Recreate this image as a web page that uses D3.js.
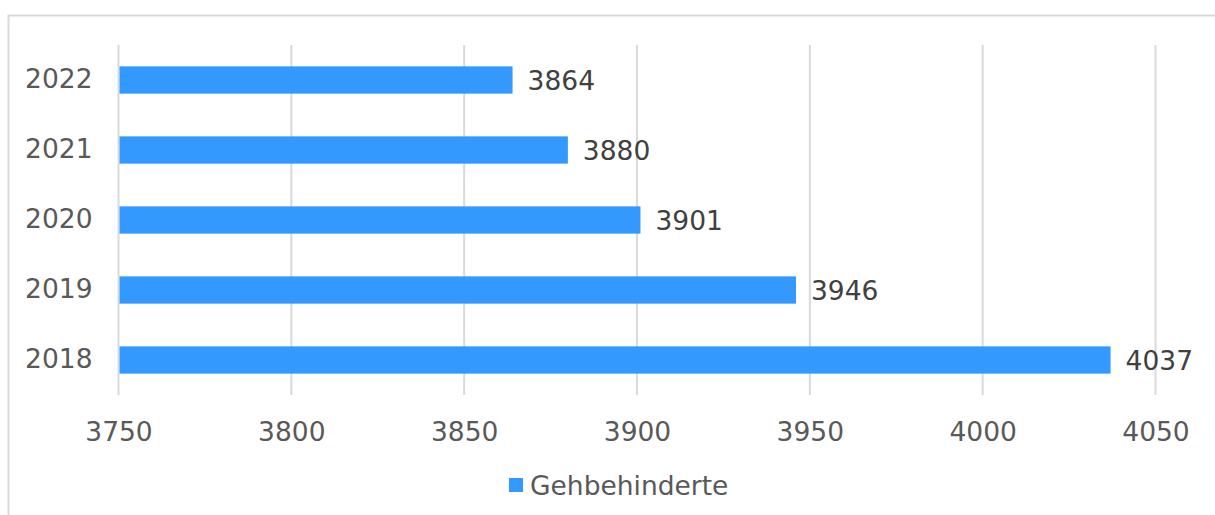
<!DOCTYPE html>
<html>
<head>
<meta charset="utf-8">
<script src="https://cdn.jsdelivr.net/npm/d3@7"></script>
<style>
  body { margin: 0; background: #fff; }
  svg text { font-family: "DejaVu Sans", Verdana, sans-serif; }
</style>
</head>
<body>
<div id="chart"></div>
<script>
// daten
var jahre = ["2022", "2021", "2020", "2019", "2018"];
var werte = [3864, 3880, 3901, 3946, 4037];
var xTicks = [3750, 3800, 3850, 3900, 3950, 4000, 4050];
var serie = "Gehbehinderte";

var width = 1215, height = 515;
var margin = {top: 45, right: 60, bottom: 120, left: 118.5};
var plotWidth = 1155.5 - margin.left;
var plotHeight = 395 - margin.top;
var fs = 26.5;

var svg = d3.select("#chart").append("svg")
  .attr("width", width).attr("height", height);

// rahmen
svg.append("rect")
  .attr("x", 8.5).attr("y", 15.5)
  .attr("width", width + 10).attr("height", height)
  .attr("fill", "none").attr("stroke", "#d9d9d9").attr("stroke-width", 2);

var plot = svg.append("g")
  .attr("transform", "translate(" + margin.left + "," + margin.top + ")");

var xs = d3.scaleLinear().domain([3750, 4050]).range([0, plotWidth]);
var ys = d3.scaleBand().domain(jahre).range([0, plotHeight]).paddingInner(0.61).paddingOuter(0.305);

// gitterlinien
plot.selectAll(".grid").data(xTicks).enter().append("line")
  .attr("x1", function(d){ return xs(d); })
  .attr("x2", function(d){ return xs(d); })
  .attr("y1", 0).attr("y2", plotHeight)
  .attr("stroke", "#d9d9d9").attr("stroke-width", 2);

// balken
plot.selectAll(".bar").data(werte).enter().append("rect")
  .attr("x", xs(3750) + 1)
  .attr("y", function(d, i){ return ys(jahre[i]); })
  .attr("width", function(d){ return xs(d) - xs(3750) - 1; })
  .attr("height", ys.bandwidth())
  .attr("fill", "#3399ff");

// werte
plot.selectAll(".val").data(werte).enter().append("text")
  .attr("x", function(d){ return xs(d) + 15; })
  .attr("y", function(d, i){ return ys(jahre[i]) + ys.bandwidth() / 2; })
  .attr("dy", "0.36em")
  .attr("font-size", fs)
  .attr("fill", "#404040")
  .text(function(d){ return d; });

// y achse
var yAxis = plot.append("g").call(d3.axisLeft(ys).tickSize(0).tickPadding(26));
yAxis.select(".domain").remove();
yAxis.selectAll("text").attr("font-size", fs).attr("fill", "#595959")
  .attr("font-family", "DejaVu Sans, Verdana, sans-serif");

// x achse
var xAxis = plot.append("g")
  .attr("transform", "translate(0," + plotHeight + ")")
  .call(d3.axisBottom(xs).tickValues(xTicks).tickSize(0).tickPadding(27).tickFormat(d3.format("d")));
xAxis.select(".domain").remove();
xAxis.selectAll("text").attr("font-size", fs).attr("fill", "#595959")
  .attr("font-family", "DejaVu Sans, Verdana, sans-serif");

// legende
var legend = svg.append("g").attr("transform", "translate(509,478)");
legend.append("rect").attr("width", 14).attr("height", 14).attr("fill", "#3399ff");
legend.append("text")
  .attr("x", 21).attr("y", 7).attr("dy", "0.36em")
  .attr("font-size", fs).attr("fill", "#595959")
  .text(serie);
</script>
</body>
</html>
